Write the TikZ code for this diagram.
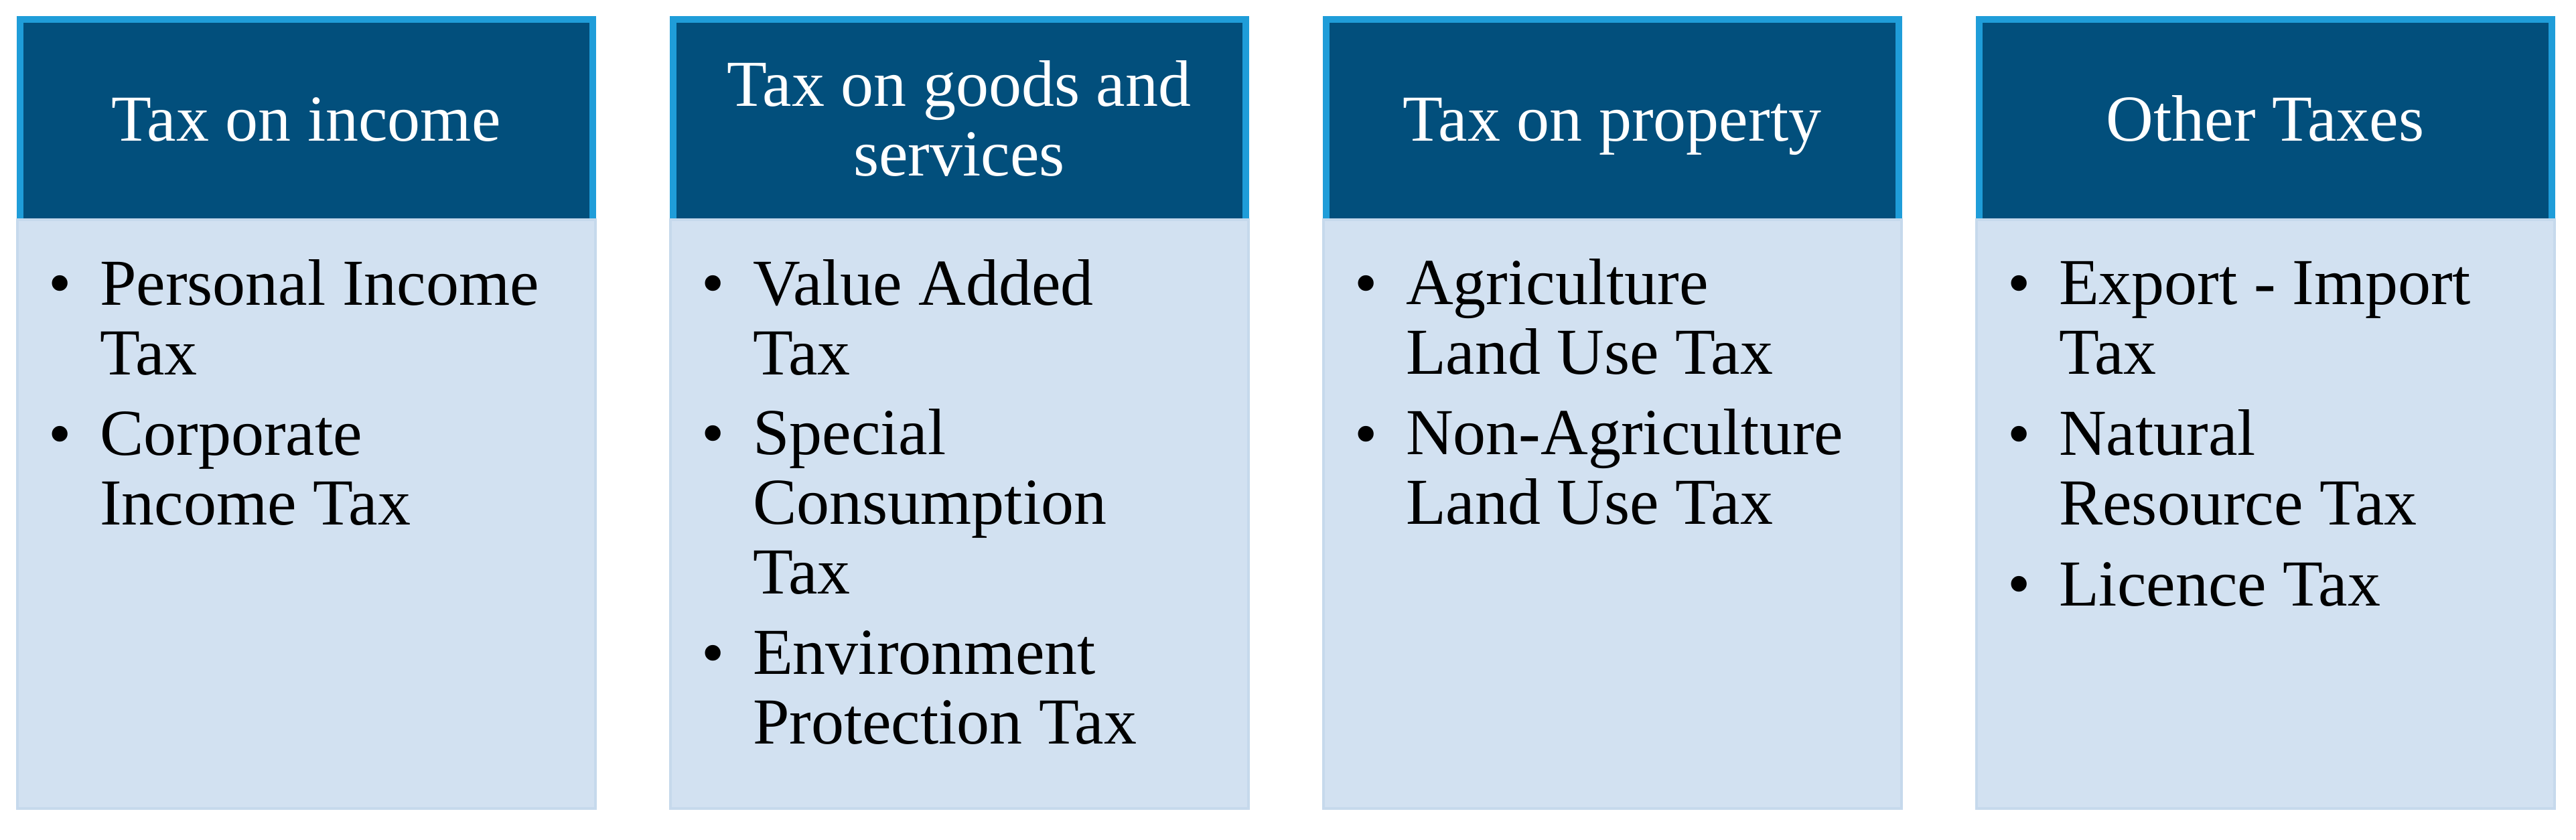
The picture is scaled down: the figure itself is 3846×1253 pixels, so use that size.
\documentclass[tikz,border=0pt]{standalone}
\usepackage{fontspec}
\setmainfont{Liberation Serif}
\definecolor{hdrfill}{HTML}{024F7C}
\definecolor{hdrline}{HTML}{1F9DD9}
\definecolor{bodyfill}{HTML}{D2E1F1}
\definecolor{bodyline}{HTML}{C6D9EC}
\begin{document}
\begin{tikzpicture}[x=0.2pt,y=-0.2pt,
  hdr/.style={fill=hdrfill, draw=hdrline, line width=2pt},
  bodybox/.style={fill=bodyfill, draw=bodyline, line width=0.7pt},
  txt/.style={font=\fontsize{19.6pt}{20.8pt}\selectfont, inner sep=0pt},
  htext/.style={txt, text=white, align=center, anchor=base},
  btext/.style={txt, align=left, anchor=base west},
  bul/.style={txt, anchor=base}]
\useasboundingbox (0,0) rectangle (3846,1253);
% column boxes
\foreach \c in {25,1000,1975,2950}{
  \draw[hdr] (\c+5,29) rectangle (\c+860,332);
  \draw[bodybox] (\c+1,328) rectangle (\c+864,1207);
}
% headers (base anchor = last line)
\node[htext] (h1) at (457,210) {Tax on income};
\node[htext] (h2) at (1432,262) {Tax on goods and\\services};
\node[htext] (h3) at (2407,210) {Tax on property};
\node[htext] (h4) at (3382,210) {Other Taxes};
% column 1
\node[bul] (p1a) at (90,455) {•};
\node[btext] (t1a) at (148,559) {Personal Income\\Tax};
\node[bul] (p1b) at (90,680) {•};
\node[btext] (t1b) at (148,783) {Corporate\\Income Tax};
% column 2
\node[bul] (p2a) at (1065,455) {•};
\node[btext] (t2a) at (1123,559) {Value Added\\Tax};
\node[bul] (p2b) at (1065,679) {•};
\node[btext] (t2b) at (1123,886) {Special\\Consumption\\Tax};
\node[bul] (p2c) at (1065,1007) {•};
\node[btext] (t2c) at (1123,1110) {Environment\\Protection Tax};
% column 3
\node[bul] (p3a) at (2040,455) {•};
\node[btext] (t3a) at (2098,558) {Agriculture\\Land Use Tax};
\node[bul] (p3b) at (2040,680) {•};
\node[btext] (t3b) at (2098,782) {Non-Agriculture\\Land Use Tax};
% column 4
\node[bul] (p4a) at (3015,455) {•};
\node[btext] (t4a) at (3073,558) {Export - Import\\Tax};
\node[bul] (p4b) at (3015,680) {•};
\node[btext] (t4b) at (3073,783) {Natural\\Resource Tax};
\node[bul] (p4c) at (3015,904) {•};
\node[btext] (t4c) at (3073,904) {Licence Tax};
\end{tikzpicture}
\end{document}
